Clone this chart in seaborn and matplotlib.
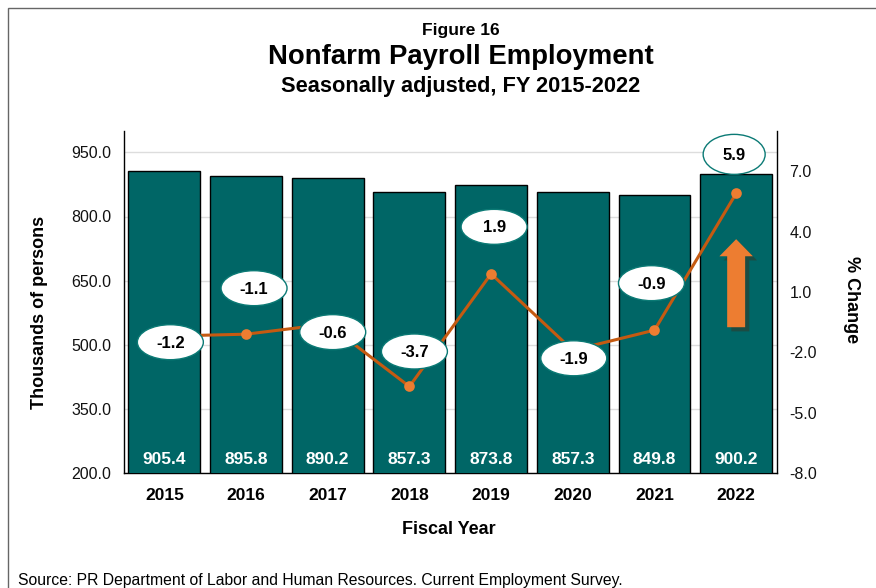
import matplotlib
matplotlib.use('Agg')
import matplotlib.pyplot as plt
import matplotlib.patheffects as pe
from matplotlib.patches import Ellipse, FancyArrow, Rectangle
import seaborn as sns
import pandas as pd

years = ['2015', '2016', '2017', '2018', '2019', '2020', '2021', '2022']
employment = [905.4, 895.8, 890.2, 857.3, 873.8, 857.3, 849.8, 900.2]
change = [-1.2, -1.1, -0.6, -3.7, 1.9, -1.9, -0.9, 5.9]
left_ticks = [200, 350, 500, 650, 800, 950]
right_ticks = [-8, -5, -2, 1, 4, 7]

# where the ovals sit relative to their point, in pixels
label_dx = [6, 8, 5, 5, 3, 1, -3, -2]
label_dy = [-6, 46, -8, 35, 47, -8, 47, 39]
oval_w = [66, 66, 66, 66, 66, 66, 66, 62]
oval_h = [35, 35, 35, 35, 35, 35, 35, 40]

teal = '#006666'
orange = '#c55a11'
dot = '#ed7d31'

sns.set_theme(style='white')
plt.rcParams['font.family'] = ['Liberation Sans', 'DejaVu Sans']

W, H = 876, 588
fig = plt.figure(figsize=(W / 100, H / 100), dpi=100)
ax = fig.add_axes([123.5 / W, 1 - 473 / H, 653.5 / W, 342 / H])

df = pd.DataFrame({'year': years, 'employment': employment, 'change': change})
sns.barplot(data=df, x='year', y='employment', color=teal, saturation=1, width=0.88,
            edgecolor='black', linewidth=1, ax=ax, zorder=3)
ax.set_ylim(200, 1000)
ax.set_yticks(left_ticks)
ax.set_yticklabels([f'{v:.1f}' for v in left_ticks], fontsize=11.5, color='#111111')
ax.set_xlabel('')
ax.set_ylabel('')
ax.tick_params(axis='x', length=0, pad=11)
ax.tick_params(axis='y', length=0, pad=9)
for t in ax.get_xticklabels():
    t.set_fontsize(12.5)
    t.set_fontweight('bold')
    t.set_color('black')
ax.grid(axis='y', color='#dddddd', linewidth=1, zorder=0)
ax.set_axisbelow(True)
for s in ['top', 'right']:
    ax.spines[s].set_visible(False)
for s in ['left', 'bottom']:
    ax.spines[s].set_color('black')
    ax.spines[s].set_linewidth(1)

for i, v in enumerate(employment):
    ax.text(i, 232, f'{v:.1f}', ha='center', va='center', color='white',
            fontsize=12.5, fontweight='bold', zorder=4)

ax2 = ax.twinx()
sns.pointplot(data=df, x='year', y='change', color=orange, ax=ax2, markers='o',
              markersize=6, linewidth=2.2, markerfacecolor=dot, markeredgecolor=dot,
              errorbar=None, zorder=5)
ax2.set_ylim(-8, 9)
ax2.set_xlim(-0.5, 7.5)
ax2.set_yticks(right_ticks)
ax2.set_yticklabels([f'{v:.1f}' for v in right_ticks], fontsize=11.5, color='#111111')
ax2.tick_params(axis='y', length=0, pad=9)
ax2.set_xlabel('')
ax2.set_ylabel('')
ax2.grid(False)
for s in ['top', 'left', 'bottom']:
    ax2.spines[s].set_visible(False)
ax2.spines['right'].set_color('black')
ax2.spines['right'].set_linewidth(1)

# ovals are sized in pixels, so place them with the data transform plus an offset
fig.canvas.draw()
for i, v in enumerate(change):
    px, py = ax2.transData.transform((i, v))
    cx, cy = px + label_dx[i], py + label_dy[i]
    e = Ellipse((cx, cy), oval_w[i], oval_h[i], transform=None, facecolor='white',
                edgecolor='#0b7a75', linewidth=1.0, zorder=6)
    ax2.add_patch(e)
    ax2.annotate(f'{v:.1f}', (cx, cy - 1), xycoords='figure pixels', ha='center', va='center',
                 fontsize=12, fontweight='bold', color='black', zorder=7)

arrow = FancyArrow(7, 541, 0, 206, width=0.22, head_width=0.41, head_length=40,
                   length_includes_head=True, color=dot, linewidth=0, transform=ax.transData,
                   zorder=5)
arrow.set_path_effects([pe.SimplePatchShadow(offset=(3, -3), alpha=0.4), pe.Normal()])
ax2.add_patch(arrow)

fig.text(461 / W, 1 - 31 / H, 'Figure 16', ha='center', va='center', fontsize=12.5, fontweight='bold', color='black')
fig.text(461 / W, 1 - 57 / H, 'Nonfarm Payroll Employment', ha='center', va='center', fontsize=19.8, fontweight='bold', color='black')
fig.text(461 / W, 1 - 86 / H, 'Seasonally adjusted, FY 2015-2022', ha='center', va='center', fontsize=15.7, fontweight='bold', color='black')
fig.text(449 / W, 1 - 529 / H, 'Fiscal Year', ha='center', va='center', fontsize=13, fontweight='bold', color='black')
fig.text(40 / W, 1 - 312 / H, 'Thousands of persons', ha='center', va='center', rotation=90, fontsize=13, fontweight='bold', color='black')
fig.text(851.5 / W, 1 - 300 / H, '% Change', ha='center', va='center', rotation=270, fontsize=13, fontweight='bold', color='black')
fig.text(18 / W, 1 - 580 / H, 'Source: PR Department of Labor and Human Resources. Current Employment Survey.',
         ha='left', va='center', fontsize=11.3, color='black')

fig.add_artist(Rectangle((8 / W, -0.01), 1, 1 - 8 / H + 0.01, transform=fig.transFigure,
                         fill=False, edgecolor='#666666', linewidth=1))

fig.savefig('out.png', dpi=100)
